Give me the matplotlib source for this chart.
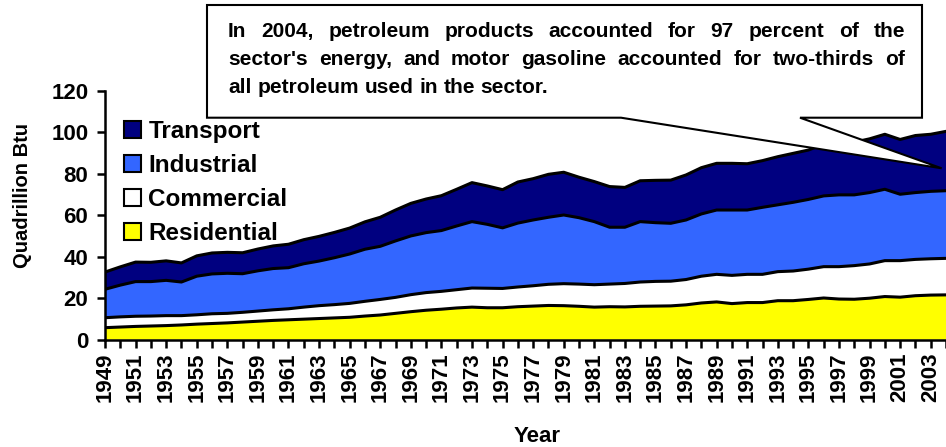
import numpy as np
import matplotlib
matplotlib.use('Agg')
import matplotlib.pyplot as plt
from matplotlib.patches import Patch, Polygon
from matplotlib.transforms import IdentityTransform

plt.rcParams['font.family'] = ['Liberation Sans', 'DejaVu Sans']
plt.rcParams['font.weight'] = 'bold'

## data: top of each band (cumulative, quadrillion Btu)
years = np.arange(1949, 2005)
res_top = [5.8, 6.1, 6.4, 6.6, 6.8, 7.1, 7.5, 7.8, 8.1, 8.5,
           8.9, 9.3, 9.6, 9.9, 10.2, 10.5, 10.8, 11.4, 11.9, 12.7,
           13.5, 14.2, 14.7, 15.3, 15.7, 15.4, 15.4, 15.9, 16.2, 16.5,
           16.4, 16.1, 15.7, 15.9, 15.8, 16.1, 16.2, 16.3, 16.8, 17.7,
           18.2, 17.4, 17.9, 17.9, 18.8, 18.8, 19.4, 20.1, 19.6, 19.5,
           20.0, 20.8, 20.5, 21.2, 21.5, 21.6]
com_top = [10.6, 11.0, 11.3, 11.4, 11.6, 11.6, 12.0, 12.5, 12.7, 13.2,
           13.8, 14.4, 14.9, 15.7, 16.4, 16.9, 17.5, 18.5, 19.4, 20.4,
           21.7, 22.7, 23.3, 24.1, 24.9, 24.8, 24.7, 25.4, 26.0, 26.7,
           27.0, 26.8, 26.5, 26.8, 27.1, 27.8, 28.1, 28.2, 29.0, 30.6,
           31.5, 31.0, 31.5, 31.5, 32.8, 33.1, 34.0, 35.2, 35.2, 35.7,
           36.5, 38.1, 38.1, 38.7, 39.0, 39.2]
ind_top = [24.3, 26.3, 28.0, 28.0, 28.6, 27.8, 30.6, 31.7, 32.0, 31.8,
           33.2, 34.3, 34.7, 36.6, 37.9, 39.5, 41.3, 43.6, 45.0, 47.6,
           50.0, 51.6, 52.6, 54.8, 56.9, 55.6, 53.9, 56.2, 57.7, 59.0,
           60.1, 58.8, 56.9, 54.2, 54.2, 56.9, 56.4, 56.1, 57.7, 60.6,
           62.5, 62.5, 62.5, 63.8, 65.0, 66.2, 67.6, 69.3, 69.8, 69.8,
           70.9, 72.5, 70.1, 70.9, 71.5, 71.8]
tra_top = [32.6, 35.1, 37.4, 37.3, 38.0, 37.0, 40.4, 41.8, 42.1, 41.9,
           43.7, 45.2, 46.0, 48.2, 49.8, 51.7, 53.8, 56.8, 59.0, 62.5,
           65.7, 67.8, 69.4, 72.5, 75.7, 74.1, 72.3, 76.0, 77.6, 79.7,
           80.7, 78.3, 76.2, 73.8, 73.4, 76.6, 76.8, 76.9, 79.4, 82.9,
           85.0, 85.0, 84.8, 86.3, 88.2, 89.8, 91.4, 94.2, 94.8, 95.2,
           96.8, 99.0, 96.5, 98.4, 99.0, 100.4]

sectors = ['Residential', 'Commercial', 'Industrial', 'Transport']
colors = ['#FFFF00', '#FFFFFF', '#3366FF', '#000080']

tops = np.array([res_top, com_top, ind_top, tra_top])
values = np.diff(np.vstack([np.zeros(len(years)), tops]), axis=0)

W, H = 946, 447
fig = plt.figure(figsize=(W / 100, H / 100), dpi=100)
ax = fig.add_axes([105 / W, 107.3 / H, 1 - 105 / W, 249 / H])

ax.stackplot(years, *values, colors=colors, linewidth=0)
for top in tops:
    ax.plot(years, top, color='black', lw=2.2, solid_joinstyle='round')

ax.set_xlim(1949, 2003.6)
ax.set_ylim(0, 120)
ax.set_yticks(range(0, 121, 20))
ax.set_xticks(years)
ax.set_xticklabels([str(y) if (y - 1949) % 2 == 0 else '' for y in years])
ax.tick_params(axis='x', rotation=90, labelsize=16, length=6, width=1.8, pad=3)
ax.tick_params(axis='y', labelsize=16, length=6, width=1.8, pad=6)
for s in ['top', 'right']:
    ax.spines[s].set_visible(False)
for s in ['left', 'bottom']:
    ax.spines[s].set_linewidth(1.8)

fig.text(22 / W, 1 - 196 / H, 'Quadrillion Btu', rotation=90,
         ha='center', va='center', fontsize=14.5)
fig.text(537 / W, 1 - 437 / H, 'Year', ha='center', va='center', fontsize=16)

handles = [Patch(facecolor=c, edgecolor='black', linewidth=1.5, label=l)
           for c, l in zip(colors[::-1], sectors[::-1])]
fig.legend(handles=handles, loc='upper left', bbox_to_anchor=(124 / W, 1 - 120 / H),
           frameon=False, prop={'weight': 'bold', 'size': 17.5},
           handlelength=0.7, handleheight=0.7, handletextpad=0.3,
           labelspacing=0.45, borderpad=0, borderaxespad=0)

# callout box with pointer, in pixel coords (from top)
pts = [(207, 5), (922, 5), (922, 117.7), (800, 117.7), (941.7, 168.3),
       (621, 117.7), (207, 117.7)]
poly = Polygon([(x / W, 1 - y / H) for x, y in pts], closed=True,
               facecolor='white', edgecolor='black', lw=1.5,
               transform=fig.transFigure, zorder=10)
fig.add_artist(poly)

lines = ["In 2004, petroleum products accounted for 97 percent of the",
         "sector's energy, and motor gasoline accounted for two-thirds of",
         "all petroleum used in the sector."]
fsize = 15
x_left, x_right = 228, 905
baselines = [37, 65, 93]
fig.canvas.draw()
renderer = fig.canvas.get_renderer()
for i, line in enumerate(lines):
    words = line.split()
    texts = [fig.text(0, 0, w, fontsize=fsize, va='baseline', ha='left',
                      transform=IdentityTransform(), zorder=11) for w in words]
    widths = [t.get_window_extent(renderer).width for t in texts]
    if i < len(lines) - 1:
        gap = (x_right - x_left - sum(widths)) / (len(words) - 1)
    else:
        gap = fsize * 100 / 72 * 0.278
    x = x_left
    for t, w in zip(texts, widths):
        t.set_position((x, H - baselines[i]))
        x += w + gap

fig.savefig('out.png', dpi=100)
